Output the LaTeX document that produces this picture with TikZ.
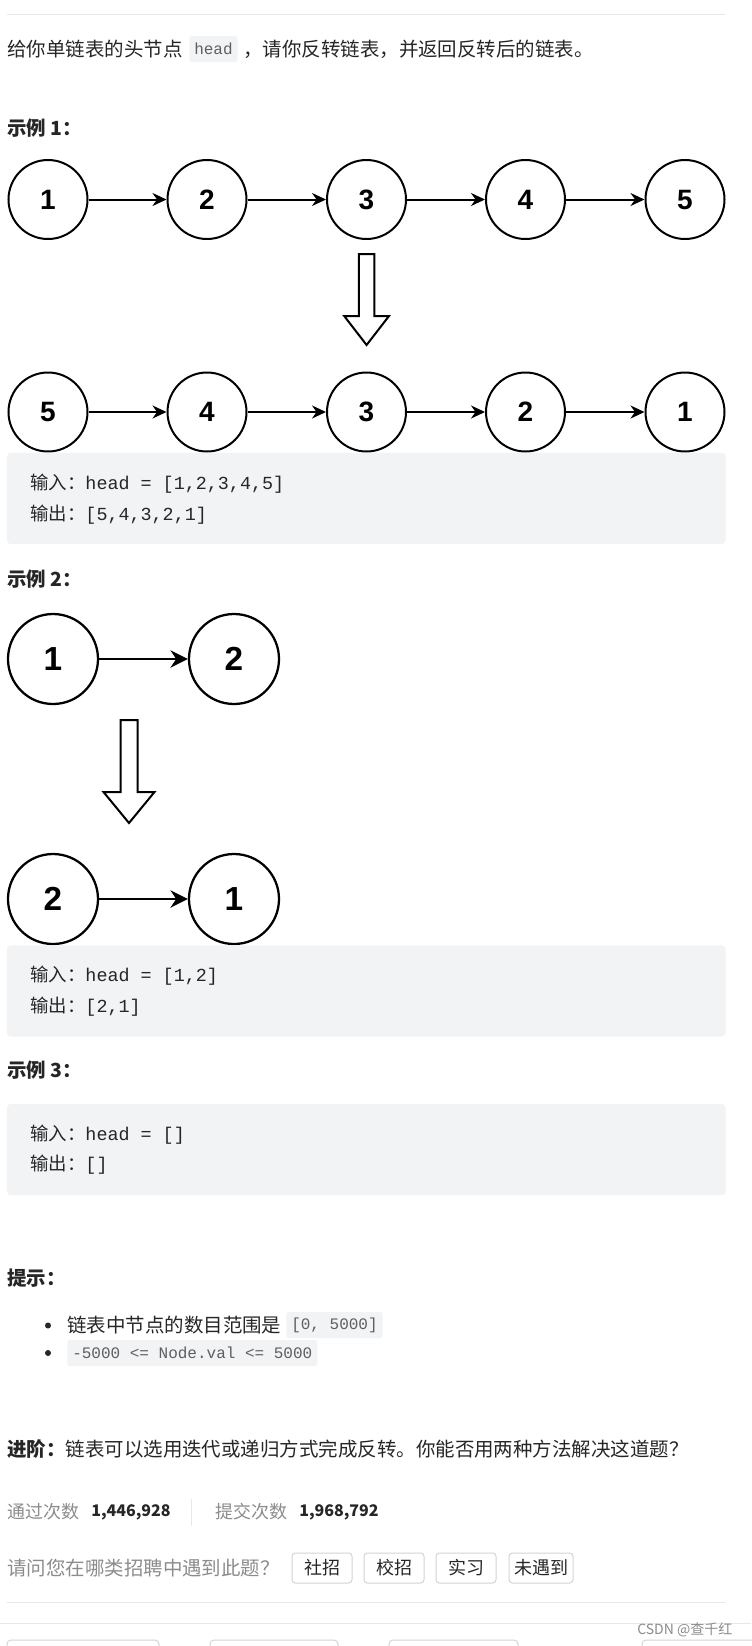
\documentclass[tikz,border=0pt]{standalone}
\usepackage{fontspec}
\usetikzlibrary{arrows.meta}
\newfontfamily\cjk{Noto Sans CJK SC}
\newfontfamily\monof{Liberation Mono}
\newfontfamily\arial{Liberation Sans}
\definecolor{txtdark}{RGB}{38,38,38}
\definecolor{txtgray}{RGB}{140,140,140}
\definecolor{codebg}{RGB}{242,243,245}
\definecolor{chiptxt}{RGB}{95,95,95}
\definecolor{rulecol}{RGB}{232,232,232}
\definecolor{btnline}{RGB}{212,212,212}
\tikzset{
  txt/.style={anchor=west,inner sep=0pt,text=txtdark,font=\cjk\fontsize{14.6}{17}\selectfont},
  sechead/.style={txt,font=\cjk\bfseries\fontsize{14.6}{17}\selectfont},
  graytxt/.style={txt,text=txtgray},
  stat/.style={txt,text=txtgray,font=\cjk\fontsize{13.5}{16}\selectfont},
  statnum/.style={txt,font=\cjk\bfseries\fontsize{12}{16}\selectfont},
  codetxt/.style={anchor=west,inner sep=0pt,text=txtdark,font=\fontsize{13.8}{16}\selectfont},
  chip/.style={anchor=west,fill=codebg,rounded corners=2pt,text=chiptxt,inner xsep=3.75pt,
    minimum height=19.5pt,font=\monof\fontsize{12}{14}\selectfont},
  codebox/.style={fill=codebg,rounded corners=3pt,minimum width=539pt,minimum height=68.5pt},
  lnode/.style={circle,draw,line width=1.5pt,minimum size=59.25pt,inner sep=0pt,
    font=\arial\bfseries\fontsize{21}{21}\selectfont},
  bignode/.style={lnode,line width=1.7pt,minimum size=67.5pt,font=\arial\bfseries\fontsize{25}{25}\selectfont},
  link/.style={-{Stealth[length=10.5pt,width=9.75pt]},line width=1.5pt},
  biglink/.style={-{Stealth[length=13pt,width=13pt]},line width=1.7pt},
  bigarrow/.style={draw,fill=white,line width=1.5pt,line join=miter},
  dot/.style={circle,fill=txtdark,minimum size=4.5pt,inner sep=0pt},
  btn/.style={draw=btnline,line width=0.75pt,rounded corners=2.5pt,text=txtdark,inner xsep=3.75pt,
    minimum width=45pt,minimum height=22.5pt,font=\cjk\fontsize{13.5}{16}\selectfont}
}
\begin{document}
\begin{tikzpicture}[x=0.75pt,y=-0.75pt]
\fill[white] (0,0) rectangle (751,1646);
\useasboundingbox (0,0) rectangle (751,1646);
\draw[rulecol,line width=0.75pt] (7,14.7) -- (725,14.7);
\node[txt] (intro1) at (7,49.5) {给你单链表的头节点};
\node[chip] (headchip) at (189,49) {head};
\node[txt] (intro2) at (243,49.5) {，请你反转链表，并返回反转后的链表。};
% example 1
\node[sechead] (ex1) at (7,128) {示例 1：};
\node[lnode] (a1) at (48,199.5) {1};
\node[lnode] (a2) at (207,199.5) {2};
\node[lnode] (a3) at (366.5,199.5) {3};
\node[lnode] (a4) at (525.5,199.5) {4};
\node[lnode] (a5) at (685,199.5) {5};
\draw[link] (a1) -- (a2);
\draw[link] (a2) -- (a3);
\draw[link] (a3) -- (a4);
\draw[link] (a4) -- (a5);
\draw[bigarrow] (358.9,254) -- (374.3,254) -- (374.3,316) -- (389,316) -- (366.6,345)
 -- (344.2,316) -- (358.9,316) -- cycle;
\node[lnode] (b1) at (48,412) {5};
\node[lnode] (b2) at (207,412) {4};
\node[lnode] (b3) at (366.5,412) {3};
\node[lnode] (b4) at (525.5,412) {2};
\node[lnode] (b5) at (685,412) {1};
\draw[link] (b1) -- (b2);
\draw[link] (b2) -- (b3);
\draw[link] (b3) -- (b4);
\draw[link] (b4) -- (b5);
\node[codebox] (box1) at (366.3,498.5) {};
\node[codetxt] (in1) at (30,484) {{\cjk 输入：}{\monof head = [1,2,3,4,5]}};
\node[codetxt] (out1) at (30,515) {{\cjk 输出：}{\monof [5,4,3,2,1]}};
% example 2
\node[sechead] (ex2) at (7,579) {示例 2：};
\node[bignode] (c1) at (53,659) {1};
\node[bignode] (c2) at (234,659) {2};
\draw[biglink] (c1) -- (c2);
\draw[bigarrow] (120.5,720) -- (137.5,720) -- (137.5,792) -- (154.5,792) -- (129,823)
 -- (103.5,792) -- (120.5,792) -- cycle;
\node[bignode] (d1) at (53,899) {2};
\node[bignode] (d2) at (234,899) {1};
\draw[biglink] (d1) -- (d2);
\node[codebox] (box2) at (366.3,991) {};
\node[codetxt] (in2) at (30,976) {{\cjk 输入：}{\monof head = [1,2]}};
\node[codetxt] (out2) at (30,1007) {{\cjk 输出：}{\monof [2,1]}};
% example 3
\node[sechead] (ex3) at (7,1070) {示例 3：};
\node[codebox] (box3) at (366.3,1149.5) {};
\node[codetxt] (in3) at (30,1135) {{\cjk 输入：}{\monof head = []}};
\node[codetxt] (out3) at (30,1165) {{\cjk 输出：}{\monof []}};
% hints
\node[sechead] (hint) at (7,1278) {提示：};
\node[dot] (dot1) at (48,1325.5) {};
\node[txt] (hint1) at (67,1325.5) {链表中节点的数目范围是};
\node[chip] (chip1) at (286,1325) {[0, 5000]};
\node[dot] (dot2) at (48,1353) {};
\node[chip] (chip2) at (67,1353) {-5000 <= Node.val <= 5000};
\node[txt] (adv) at (7,1449) {{\bfseries 进阶：}链表可以选用迭代或递归方式完成反转。你能否用两种方法解决这道题？};
% stats
\node[stat] (pass) at (7,1512) {通过次数};
\node[statnum] (passnum) at (91,1512) {1,446,928};
\draw[rulecol,line width=0.75pt] (191.6,1499) -- (191.6,1526);
\node[stat] (sub) at (215,1512) {提交次数};
\node[statnum] (subnum) at (299,1512) {1,968,792};
\node[graytxt] (ask) at (7,1568) {请问您在哪类招聘中遇到此题？};
\node[btn] (bt1) at (322,1568) {社招};
\node[btn] (bt2) at (394,1568) {校招};
\node[btn] (bt3) at (466,1568) {实习};
\node[btn] (bt4) at (541,1568) {未遇到};
\draw[rulecol,line width=0.75pt] (7,1602) -- (725,1602);
\draw[rulecol,line width=0.75pt] (0,1623) -- (751,1623);
\draw[btnline,line width=0.75pt,rounded corners=3pt] (7,1680) -- (7,1640) -- (159,1640) -- (159,1680);
\draw[btnline,line width=0.75pt,rounded corners=3pt] (210,1680) -- (210,1640) -- (338,1640) -- (338,1680);
\draw[btnline,line width=0.75pt,rounded corners=3pt] (389,1680) -- (389,1640) -- (518,1640) -- (518,1680);
\draw[btnline,line width=0.75pt,rounded corners=3pt] (642,1680) -- (642,1640) -- (770,1640);
\node[txt,text=txtgray,font=\cjk\fontsize{10.5}{12}\selectfont] (mark) at (637,1630) {CSDN @查千红};
\end{tikzpicture}
\end{document}
